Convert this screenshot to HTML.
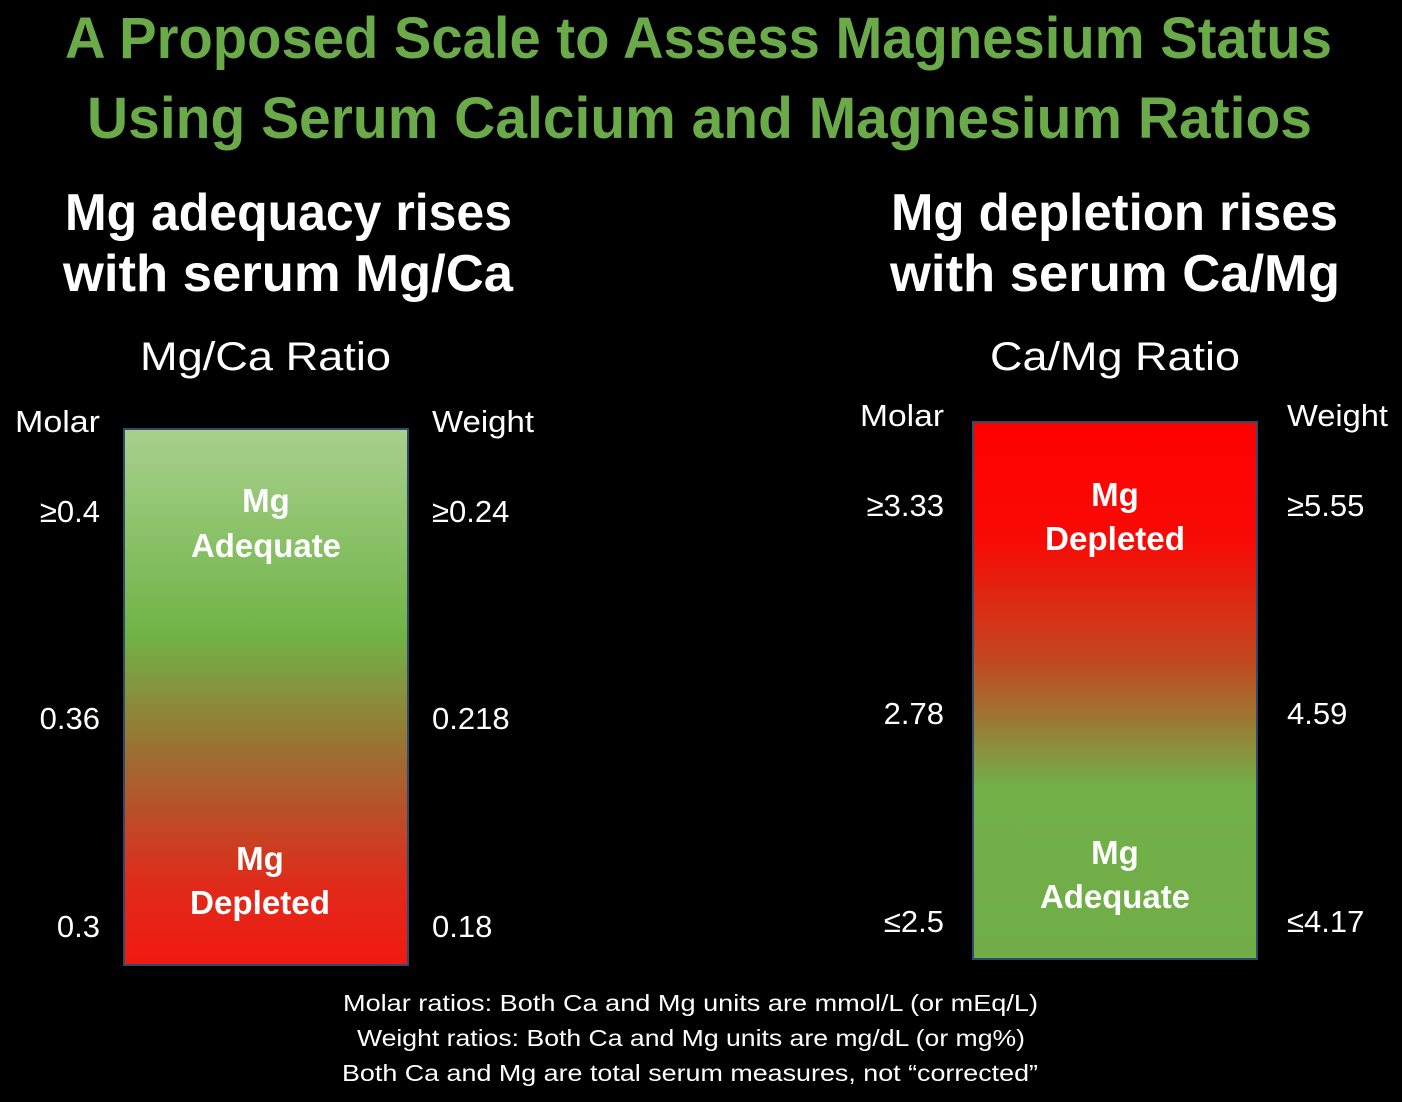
<!DOCTYPE html>
<html><head><meta charset="utf-8"><style>
html,body{margin:0;padding:0;background:#000;}
svg{display:block;}
text{font-family:"Liberation Sans",sans-serif;}
</style></head><body>
<svg width="1402" height="1102" viewBox="0 0 1402 1102">
<defs>
<linearGradient id="gl" x1="0" y1="0" x2="0" y2="1">
<stop offset="0" stop-color="#a8d08d"/><stop offset="0.38" stop-color="#70b447"/>
<stop offset="0.62" stop-color="#a06a30"/><stop offset="0.85" stop-color="#e02a1a"/><stop offset="1" stop-color="#f01a12"/>
</linearGradient>
<linearGradient id="gr" x1="0" y1="0" x2="0" y2="1">
<stop offset="0" stop-color="#ff0000"/><stop offset="0.22" stop-color="#f80a05"/>
<stop offset="0.45" stop-color="#c04a20"/><stop offset="0.68" stop-color="#72b048"/><stop offset="1" stop-color="#70ad47"/>
</linearGradient>
</defs>
<g fill="#6aaa48" font-weight="bold" font-size="58">
<text x="65" y="58" textLength="1267" lengthAdjust="spacingAndGlyphs">A Proposed Scale to Assess Magnesium Status</text>
<text x="87" y="138" textLength="1225" lengthAdjust="spacingAndGlyphs">Using Serum Calcium and Magnesium Ratios</text>
</g>
<g fill="#fff" font-weight="bold" font-size="52">
<text x="65" y="230" textLength="447" lengthAdjust="spacingAndGlyphs">Mg adequacy rises</text>
<text x="63" y="291" textLength="450" lengthAdjust="spacingAndGlyphs">with serum Mg/Ca</text>
<text x="891" y="230" textLength="447" lengthAdjust="spacingAndGlyphs">Mg depletion rises</text>
<text x="890" y="291" textLength="450" lengthAdjust="spacingAndGlyphs">with serum Ca/Mg</text>
</g>
<g fill="#fff" font-size="40">
<text x="140" y="370" textLength="251" lengthAdjust="spacingAndGlyphs">Mg/Ca Ratio</text>
<text x="990" y="370" textLength="250" lengthAdjust="spacingAndGlyphs">Ca/Mg Ratio</text>
</g>
<rect x="124" y="429" width="284" height="536" fill="url(#gl)" stroke="#2f4a6a" stroke-width="2"/>
<rect x="973" y="422" width="284" height="537" fill="url(#gr)" stroke="#2f4a6a" stroke-width="2"/>
<g fill="#fff" font-size="31">
<text x="15" y="432" textLength="85" lengthAdjust="spacingAndGlyphs">Molar</text>
<text x="432" y="432" textLength="102" lengthAdjust="spacingAndGlyphs">Weight</text>
<text x="100" y="522" text-anchor="end">≥0.4</text>
<text x="100" y="729" text-anchor="end">0.36</text>
<text x="100" y="937" text-anchor="end">0.3</text>
<text x="432" y="522">≥0.24</text>
<text x="432" y="729">0.218</text>
<text x="432" y="937">0.18</text>
</g>
<g fill="#fff" font-size="31">
<text x="860" y="426" textLength="84" lengthAdjust="spacingAndGlyphs">Molar</text>
<text x="1287" y="426" textLength="101" lengthAdjust="spacingAndGlyphs">Weight</text>
<text x="944" y="516" text-anchor="end">≥3.33</text>
<text x="944" y="724" text-anchor="end">2.78</text>
<text x="944" y="932" text-anchor="end">≤2.5</text>
<text x="1287" y="516">≥5.55</text>
<text x="1287" y="724">4.59</text>
<text x="1287" y="932">≤4.17</text>
</g>
<g fill="#fff" font-size="33" font-weight="bold" text-anchor="middle">
<text x="266" y="512">Mg</text>
<text x="266" y="557" textLength="150" lengthAdjust="spacingAndGlyphs">Adequate</text>
<text x="260" y="870">Mg</text>
<text x="260" y="914" textLength="140" lengthAdjust="spacingAndGlyphs">Depleted</text>
<text x="1115" y="506">Mg</text>
<text x="1115" y="550" textLength="140" lengthAdjust="spacingAndGlyphs">Depleted</text>
<text x="1115" y="864">Mg</text>
<text x="1115" y="908" textLength="150" lengthAdjust="spacingAndGlyphs">Adequate</text>
</g>
<g fill="#fff" font-size="23">
<text x="343" y="1011" textLength="695" lengthAdjust="spacingAndGlyphs">Molar ratios:  Both Ca and Mg units are mmol/L (or mEq/L)</text>
<text x="357" y="1046" textLength="668" lengthAdjust="spacingAndGlyphs">Weight ratios: Both Ca and Mg units are mg/dL (or mg%)</text>
<text x="342" y="1081" textLength="696" lengthAdjust="spacingAndGlyphs">Both Ca and Mg are total serum measures, not “corrected”</text>
</g>
</svg>
</body></html>
